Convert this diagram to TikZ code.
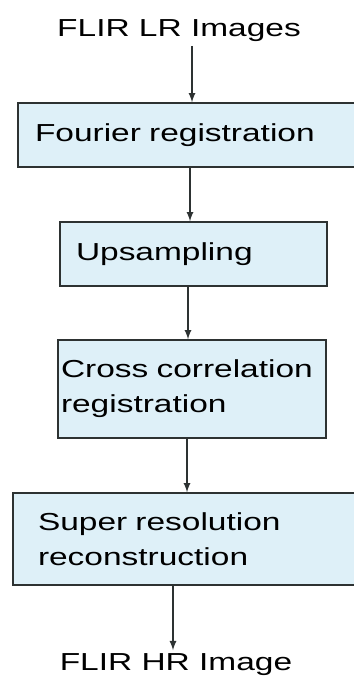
\documentclass[tikz,border=0pt]{standalone}
\usepackage{fontspec}
\setmainfont[FakeStretch=1.36]{Liberation Sans}
\definecolor{boxfill}{RGB}{222,240,248}
\definecolor{boxline}{RGB}{45,50,50}
\tikzset{
  stage/.style={draw=boxline,fill=boxfill,line width=0.8pt,align=left,
    inner ysep=0pt,font=\fontsize{14}{19.8}\selectfont},
  label/.style={font=\fontsize{14}{17}\selectfont,inner sep=2pt},
  flow/.style={-latex,thick,boxline}
}
\begin{document}
\begin{tikzpicture}
   \useasboundingbox (0,0) rectangle (7.06,-13.6);

   \node[label] (lr) at (3.58,-0.62) {FLIR LR Images};

   \node[stage,minimum width=6.76cm,minimum height=1.28cm,text width=6.08cm,inner xsep=0.34cm]
      (fourier) at (3.74,-2.70) {\raisebox{-2pt}{Fourier registration}};
   \node[stage,minimum width=5.34cm,minimum height=1.28cm,text width=4.70cm,inner xsep=0.32cm]
      (upsamp) at (3.87,-5.08) {Upsampling};
   \node[stage,minimum width=5.36cm,minimum height=1.96cm,text width=5.24cm,inner xsep=0.06cm]
      (xcorr) at (3.84,-7.78) {Cross correlation\\registration};
   \node[stage,minimum width=6.86cm,minimum height=1.84cm,text width=5.86cm,inner xsep=0.50cm]
      (superres) at (3.69,-10.78) {Super resolution\\reconstruction};

   \node[label] (hr) at (3.52,-13.30) {FLIR HR Image};

   \draw[flow] (lr.south -| 3.84,0) -- (fourier.north -| 3.84,0);
   \draw[flow] (fourier.south -| 3.80,0) -- (upsamp.north -| 3.80,0);
   \draw[flow] (upsamp.south -| 3.76,0) -- (xcorr.north -| 3.76,0);
   \draw[flow] (xcorr.south -| 3.74,0) -- (superres.north -| 3.74,0);
   \draw[flow] (superres.south -| 3.46,0) -- (hr.north -| 3.46,0);
  \end{tikzpicture}
\end{document}
